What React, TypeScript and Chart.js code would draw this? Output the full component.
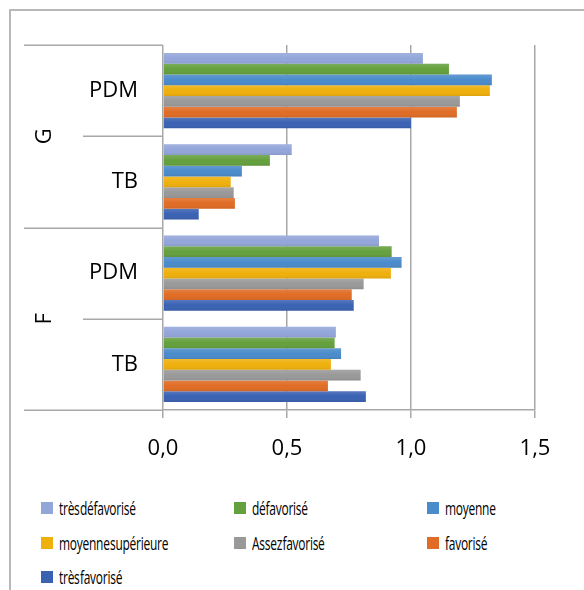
import React, { useEffect, useRef } from 'react';
import { Chart, registerables } from 'chart.js';

Chart.register(...registerables);

// ---- data ----
const categories = ['PDM', 'TB', 'PDM', 'TB'];
const groups = ['G', 'F'];
const seriesNames = [
  'très défavorisé',
  'défavorisé',
  'moyenne',
  'moyenne supérieure',
  'Assez favorisé',
  'favorisé',
  'très favorisé',
];
const tresDefavorise = [1.048, 0.519, 0.871, 0.697];
const defavorise = [1.153, 0.431, 0.922, 0.692];
const moyenne = [1.326, 0.318, 0.962, 0.718];
const moyenneSuperieure = [1.318, 0.273, 0.919, 0.677];
const assezFavorise = [1.197, 0.285, 0.809, 0.797];
const favorise = [1.185, 0.29, 0.761, 0.665];
const tresFavorise = [1.0, 0.144, 0.769, 0.818];
const seriesValues = [
  tresDefavorise,
  defavorise,
  moyenne,
  moyenneSuperieure,
  assezFavorise,
  favorise,
  tresFavorise,
];
const xMin = 0;
const xMax = 1.5;
const xStep = 0.5;

// ---- styles ----
const colors = ['#93a6da', '#64a03d', '#4a8bcb', '#efb00c', '#999999', '#e06c25', '#3a62b3'];
const LINE = '#a8a8a8';
const FONT = '"Open Sans", "DejaVu Sans", sans-serif';

const shadePlugin = {
  id: 'barShade',
  afterDatasetsDraw(chart: any) {
    const { ctx } = chart;
    ctx.save();
    chart.data.datasets.forEach((_d: any, di: number) => {
      const meta = chart.getDatasetMeta(di);
      meta.data.forEach((el: any) => {
        const h = el.height;
        const top = el.y - h / 2;
        const x0 = Math.min(el.base, el.x);
        const w = Math.abs(el.x - el.base);
        const g = ctx.createLinearGradient(0, top, 0, top + h);
        g.addColorStop(0, 'rgba(255,255,255,0.14)');
        g.addColorStop(0.5, 'rgba(255,255,255,0)');
        g.addColorStop(1, 'rgba(0,0,0,0.08)');
        ctx.fillStyle = g;
        ctx.fillRect(x0, top, w, h);
      });
    });
    ctx.restore();
  },
};

const groupPlugin = {
  id: 'groupAxis',
  afterDraw(chart: any) {
    const { ctx, chartArea, scales } = chart;
    const y = scales.y;
    const left = chartArea.left;
    ctx.save();
    ctx.strokeStyle = LINE;
    ctx.lineWidth = 1.5;
    for (let i = 0; i <= categories.length; i++) {
      const py = Math.round(y.getPixelForValue(i - 0.5)) + 0.25;
      const outer = i % 2 === 0;
      const x0 = outer ? left - 139 : left - 80;
      ctx.beginPath();
      ctx.moveTo(x0, py);
      ctx.lineTo(left, py);
      ctx.stroke();
    }
    ctx.fillStyle = '#000';
    ctx.font = `22px ${FONT}`;
    ctx.textAlign = 'center';
    ctx.textBaseline = 'middle';
    groups.forEach((g, gi) => {
      const top = y.getPixelForValue(gi * 2 - 0.5);
      const bot = y.getPixelForValue(gi * 2 + 1.5);
      ctx.save();
      ctx.translate(left - 118, (top + bot) / 2);
      ctx.rotate(-Math.PI / 2);
      ctx.fillText(g, 0, 0);
      ctx.restore();
    });
    ctx.restore();
  },
};

export default function App() {
  const ref = useRef<HTMLCanvasElement | null>(null);

  useEffect(() => {
    if (!ref.current) return;
    const chart = new Chart(ref.current, {
      type: 'bar',
      data: {
        labels: categories,
        datasets: seriesNames.map((name, i) => ({
          label: name,
          data: seriesValues[i],
          backgroundColor: colors[i],
          borderWidth: 0,
          categoryPercentage: 0.822,
          barPercentage: 1,
        })),
      },
      options: {
        indexAxis: 'y',
        animation: false,
        responsive: false,
        maintainAspectRatio: false,
        layout: { padding: { top: 45, right: 49, left: 0, bottom: 0 } },
        plugins: {
          legend: { display: false },
          tooltip: { enabled: false },
        },
        scales: {
          x: {
            min: xMin,
            max: xMax,
            afterFit: (s: any) => {
              s.height = 60;
            },
            ticks: {
              stepSize: xStep,
              padding: 18,
              color: '#000',
              font: { family: FONT, size: 22 },
              callback: (v: any) => Number(v).toFixed(1).replace('.', ','),
            },
            grid: {
              color: LINE,
              lineWidth: 1.5,
              tickLength: 8,
              drawTicks: true,
            },
            border: { display: true, color: LINE, width: 1.5 },
          },
          y: {
            afterFit: (s: any) => {
              s.width = 163;
            },
            ticks: {
              padding: 17,
              color: '#000',
              font: { family: FONT, size: 22 },
            },
            grid: { display: false },
            border: { display: false },
          },
        },
      },
      plugins: [shadePlugin, groupPlugin],
    });
    return () => chart.destroy();
  }, []);

  return (
    <div
      style={{
        position: 'absolute',
        left: 0,
        top: 0,
        width: 584,
        height: 590,
        overflow: 'hidden',
        background: '#fff',
      }}
    >
      <div
        style={{
          position: 'absolute',
          left: 9,
          top: 9,
          width: 600,
          height: 600,
          borderLeft: '2px solid #b8b8b8',
          borderTop: '2px solid #b8b8b8',
        }}
      />
      <canvas
        ref={ref}
        width={584}
        height={470}
        style={{ position: 'absolute', left: 0, top: 0, width: 584, height: 470 }}
      />
      <div
        style={{
          position: 'absolute',
          left: 41,
          top: 491,
          display: 'grid',
          gridTemplateColumns: '193px 193px 193px',
          gridAutoRows: '34.5px',
          fontFamily: FONT,
          fontSize: 19,
          color: '#000',
        }}
      >
        {seriesNames.map((name, i) => (
          <div key={name} style={{ display: 'flex', alignItems: 'center', whiteSpace: 'nowrap' }}>
            <span
              style={{
                display: 'inline-block',
                width: 12,
                height: 12,
                background: colors[i],
                marginRight: 6,
                flex: 'none',
              }}
            />
            <span
              style={{
                display: 'inline-block',
                transform: 'scaleX(0.63)',
                transformOrigin: 'left center',
                wordSpacing: -4,
                letterSpacing: -0.4,
              }}
            >
              {name}
            </span>
          </div>
        ))}
      </div>
    </div>
  );
}
